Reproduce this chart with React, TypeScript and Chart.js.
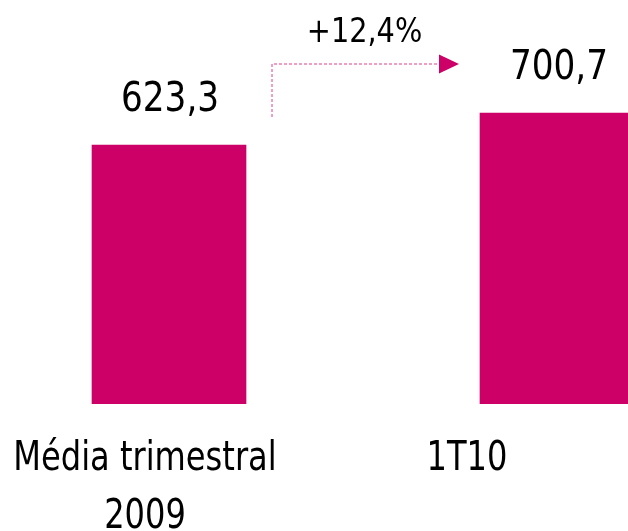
import React, { useEffect, useRef } from "react";
import { Chart, registerables } from "chart.js";

Chart.register(...registerables);

const categories: string[][] = [["Média trimestral", "2009"], ["1T10"]];
const values: number[] = [623.3, 700.7];
const valueLabels: string[] = ["623,3", "700,7"];
const growthLabel = "+12,4%";

const BAR_COLOR = "#CC0066";
const ARROW_COLOR = "#EE7DB2";
const FONT = '"DejaVu Sans Condensed", "DejaVu Sans", sans-serif';

function drawText(ctx: CanvasRenderingContext2D, text: string, x: number, y: number, size: number, sx: number) {
  ctx.save();
  ctx.translate(x, y);
  ctx.scale(sx, 1);
  ctx.font = `${size}px ${FONT}`;
  ctx.fillText(text, 0, 0);
  ctx.restore();
}

const annotationPlugin = {
  id: "annotations",
  afterDatasetsDraw(chart: any) {
    const ctx = chart.ctx as CanvasRenderingContext2D;
    const meta = chart.getDatasetMeta(0);
    const bars = meta.data as any[];
    if (bars.length < 2) return;
    ctx.save();
    ctx.fillStyle = "#000";
    ctx.textAlign = "center";
    ctx.textBaseline = "alphabetic";

    // value labels
    const valShift = [1, 2];
    bars.forEach((b, i) => {
      drawText(ctx, valueLabels[i], b.x + valShift[i], b.y - 34, 41, 0.93);
    });

    // category labels
    const catShift = [-24, -90];
    const lineGap = 58;
    bars.forEach((b, i) => {
      const base = chart.chartArea.bottom + 66;
      categories[i].forEach((line, j) => {
        drawText(ctx, line, b.x + catShift[i], base + j * lineGap, 41, 0.87);
      });
    });

    // arrow
    const b1 = bars[0];
    const b2 = bars[1];
    const x0 = b1.x + b1.width / 2 + 26;
    const xEnd = b2.x - b2.width / 2 - 21;
    const yLine = b2.y - 49;
    const yBottom = b2.y + 4;
    const head = 20;
    ctx.strokeStyle = ARROW_COLOR;
    ctx.lineWidth = 1.5;
    ctx.setLineDash([3, 2]);
    ctx.beginPath();
    ctx.moveTo(x0, yBottom);
    ctx.lineTo(x0, yLine);
    ctx.lineTo(xEnd - head, yLine);
    ctx.stroke();
    ctx.setLineDash([]);
    ctx.fillStyle = BAR_COLOR;
    ctx.beginPath();
    ctx.moveTo(xEnd - head, yLine - 9.5);
    ctx.lineTo(xEnd, yLine);
    ctx.lineTo(xEnd - head, yLine + 9.5);
    ctx.closePath();
    ctx.fill();

    ctx.fillStyle = "#000";
    drawText(ctx, growthLabel, (x0 + xEnd) / 2 - 1, yLine - 22, 34, 0.94);
    ctx.restore();
  },
};

export default function App() {
  const ref = useRef<HTMLCanvasElement | null>(null);
  useEffect(() => {
    if (!ref.current) return;
    const chart = new Chart(ref.current, {
      type: "bar",
      data: {
        datasets: [
          {
            data: values.map((v, i) => ({ x: i, y: v })),
            backgroundColor: BAR_COLOR,
            borderWidth: 0,
            barThickness: 154,
          },
        ],
      },
      options: {
        animation: false,
        responsive: false,
        maintainAspectRatio: false,
        layout: { padding: { left: 0, right: 0, top: 0, bottom: 127 } },
        plugins: { legend: { display: false }, tooltip: { enabled: false } },
        scales: {
          x: { type: "linear", offset: false, min: -0.4356, max: 1.183, display: false },
          y: { min: 0, max: 973, display: false },
        },
      },
      plugins: [annotationPlugin],
    });
    return () => chart.destroy();
  }, []);
  return (
    <div style={{ position: "absolute", left: 0, top: 0, width: 628, height: 531, background: "#fff" }}>
      <canvas ref={ref} width={628} height={531} style={{ width: 628, height: 531, display: "block" }} />
    </div>
  );
}
